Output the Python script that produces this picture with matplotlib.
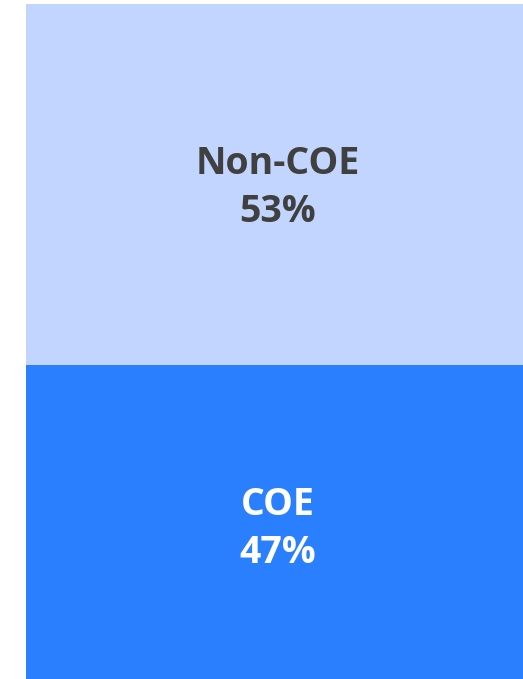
import matplotlib.pyplot as plt
import matplotlib.transforms as mtransforms

# Share of COE vs Non-COE
labels = ["COE", "Non-COE"]
values = [47, 53]
colors = ["#2a7fff", "#c2d5fe"]
text_colors = ["white", "#404040"]

fig = plt.figure(figsize=(5.23, 6.79), dpi=100)
# the block runs a little past the right and bottom edges of the image
ax = fig.add_axes([26 / 523, -7 / 679, 503 / 523, 682 / 679])

# nudge labels down a touch
shift = mtransforms.offset_copy(ax.transData, fig=fig, x=0, y=-2.5, units="points")

bottom = 0
for lab, val, col, tc in zip(labels, values, colors, text_colors):
    ax.bar(0, val, width=1, bottom=bottom, color=col, linewidth=0)
    ax.text(0, bottom + val / 2, f"{lab}\n{val}%", ha="center", va="center",
            fontsize=27, fontweight="bold", family="Open Sans", color=tc,
            linespacing=1.36, transform=shift)
    bottom += val

ax.set_xlim(-0.5, 0.5)
ax.set_ylim(0, sum(values))
ax.axis("off")

fig.savefig("out.png", dpi=100)
